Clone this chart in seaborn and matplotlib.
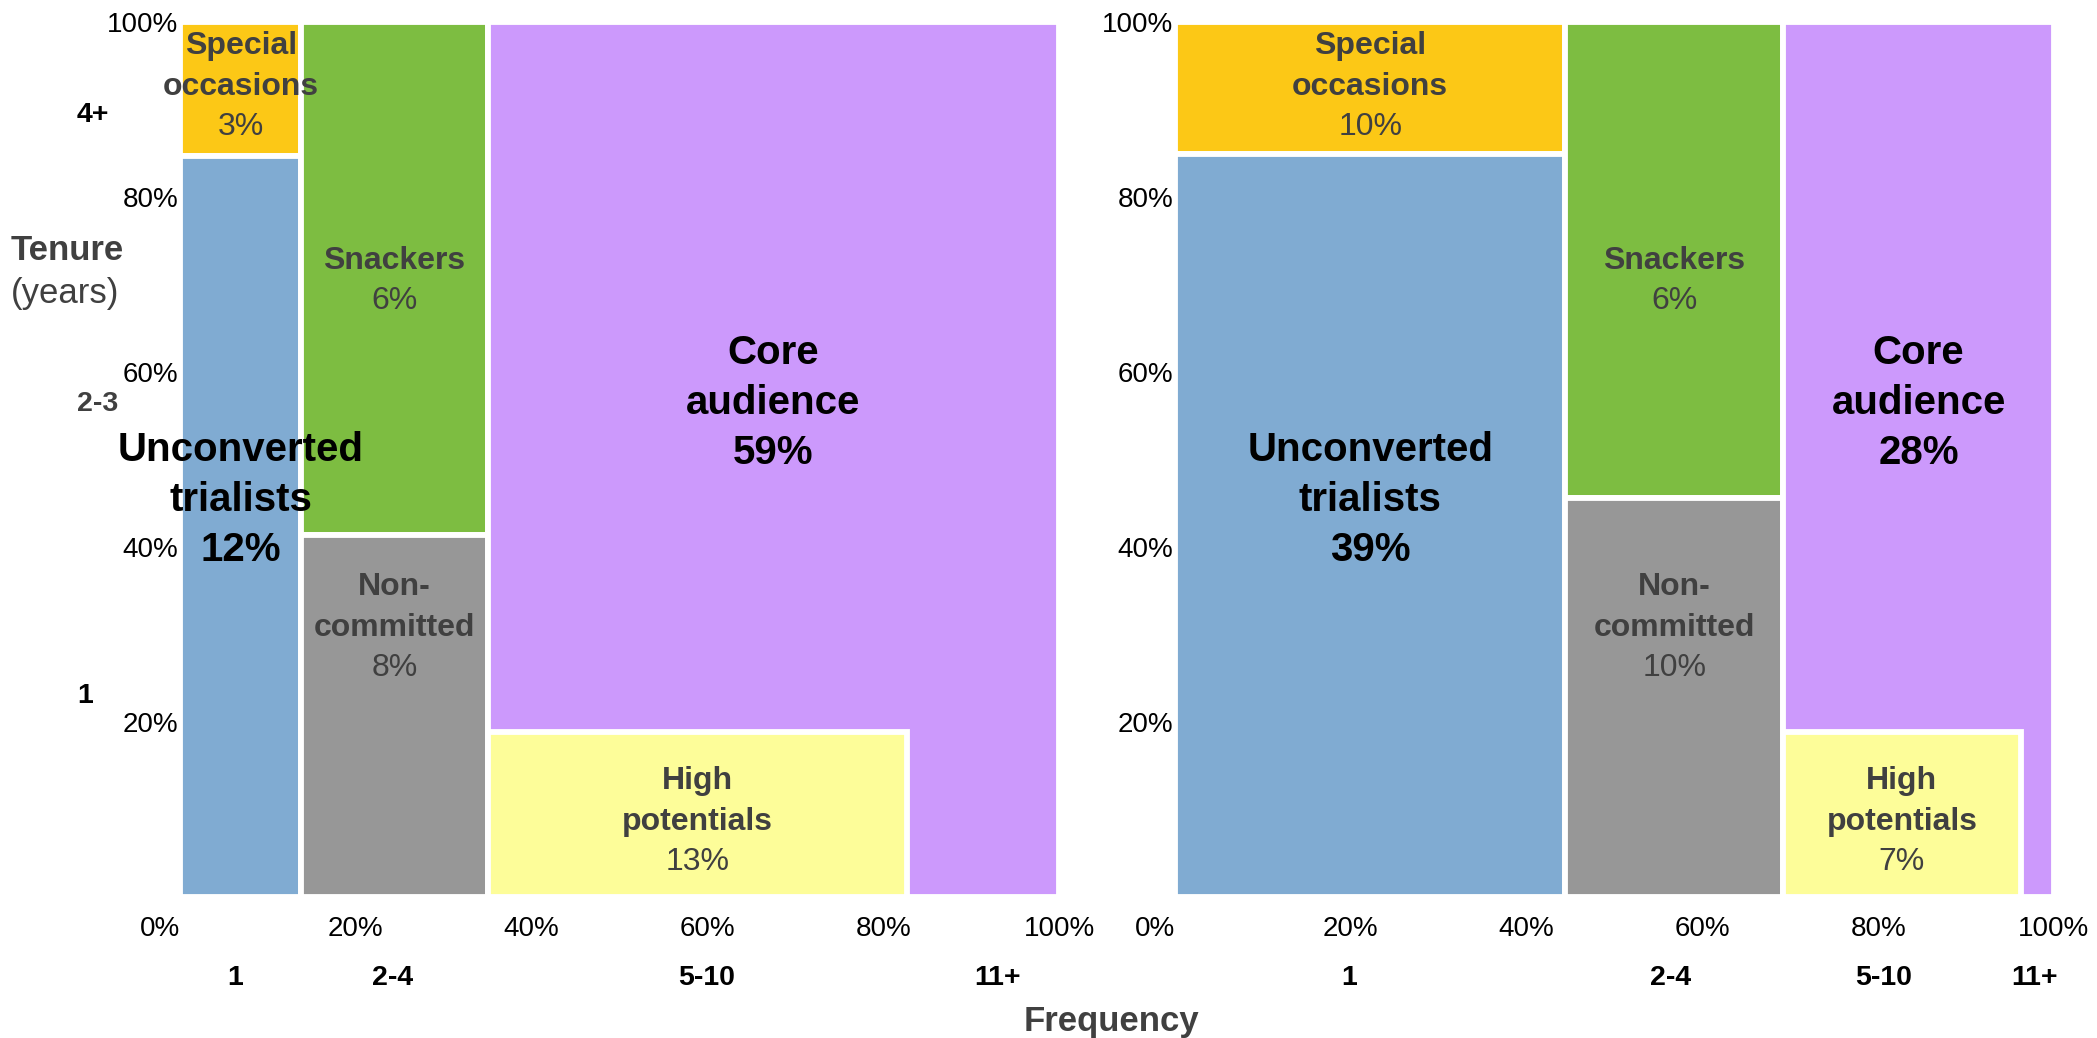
import matplotlib
matplotlib.use("Agg")
import matplotlib.pyplot as plt
import matplotlib.transforms as mtransforms
import seaborn as sns

# ---- segments of the audience map ----
segment_names = ["Special\noccasions", "Unconverted\ntrialists", "Snackers",
                 "Non-\ncommitted", "Core\naudience", "High\npotentials"]
segment_colors = ["#FCC816", "#80ABD2", "#7DBD41", "#979797", "#CC99FC", "#FDFD99"]
headline_segments = [1, 4]

# share of audience in each segment (%)
left_share = [3, 12, 6, 8, 59, 13]
right_share = [10, 39, 6, 10, 28, 7]

# rectangle bounds: x = cumulative frequency (%), y = cumulative tenure (%)
left_x0 = [0, 0, 13.8, 13.8, 35.0, 35.0]
left_x1 = [13.8, 13.8, 35.0, 35.0, 100, 82.7]
left_y0 = [84.7, 0, 41.4, 0, 0, 0]
left_y1 = [100, 84.7, 100, 41.4, 100, 18.9]

right_x0 = [0, 0, 44.4, 44.4, 69.2, 69.2]
right_x1 = [44.4, 44.4, 69.2, 69.2, 100, 96.2]
right_y0 = [84.9, 0, 45.6, 0, 0, 0]
right_y1 = [100, 84.9, 100, 45.6, 100, 18.9]

# axis categories
freq_labels = ["1", "2-4", "5-10", "11+"]
left_freq_pos = [6.3, 24.2, 59.9, 93.0]
right_freq_pos = [19.8, 56.4, 80.6, 97.8]
tenure_labels = ["1", "2-3", "4+"]
tenure_pos = [23.0, 56.3, 89.4]
pct_ticks = [0, 20, 40, 60, 80, 100]

# vertical anchor of each segment label (% of tenure axis)
label_y = [92.6, 45.4, 70.4, 30.8, 56.4, 8.6]

sns.set_theme(style="white", rc={"axes.facecolor": "white", "figure.facecolor": "white"})
plt.rcParams["font.family"] = ["Liberation Sans", "DejaVu Sans"]

W, H, DPI = 2097, 1038, 100
fig = plt.figure(figsize=(W / DPI, H / DPI), dpi=DPI)

ax_bottom = (H - 897) / H
ax_height = 875 / H
ax_left = fig.add_axes([180 / W, ax_bottom, 879 / W, ax_height])
ax_right = fig.add_axes([1175 / W, ax_bottom, 879 / W, ax_height])

TEXT_GREY = "#404040"


def draw_panel(ax, x0, x1, y0, y1, share, freq_pos):
    widths = [b - a for a, b in zip(x0, x1)]
    heights = [b - a for a, b in zip(y0, y1)]
    ax.bar(x0, heights, width=widths, bottom=y0, align="edge",
           color=segment_colors, edgecolor="white", linewidth=4.2)
    ax.set_xlim(0, 100)
    ax.set_ylim(0, 100)
    sns.despine(ax=ax, left=True, bottom=True)
    ax.grid(False)

    ax.set_xticks(pct_ticks)
    ax.set_xticklabels([f"{t}%" for t in pct_ticks])
    ax.set_yticks(pct_ticks[1:])
    ax.set_yticklabels([f"{t}%" for t in pct_ticks[1:]])
    ax.tick_params(axis="both", length=0, labelsize=20, labelcolor="black")
    ax.tick_params(axis="x", pad=14)
    ax.tick_params(axis="y", pad=1)
    first = ax.get_xticklabels()[0]
    first.set_horizontalalignment("right")

    # segment labels
    for i, name in enumerate(segment_names):
        cx = (x0[i] + x1[i]) / 2
        cy = label_y[i]
        name_lines = name.split("\n")
        if i in headline_segments:
            lines = [(t, "bold") for t in name_lines] + [(f"{share[i]}%", "bold")]
            size, pitch, color = 29, 36.0, "black"
        else:
            lines = [(t, "bold") for t in name_lines] + [(f"{share[i]}%", "normal")]
            size, pitch, color = 23, 29.0, TEXT_GREY
        n = len(lines)
        for k, (txt, weight) in enumerate(lines):
            off = ((n - 1) / 2 - k) * pitch
            ax.annotate(txt, xy=(cx, cy), xycoords="data", xytext=(0, off),
                        textcoords="offset points", ha="center", va="center",
                        fontsize=size, fontweight=weight, color=color)

    # frequency categories under the percentage ticks
    trans = mtransforms.blended_transform_factory(ax.transData, fig.transFigure)
    for lab, pos in zip(freq_labels, freq_pos):
        ax.text(pos, (H - 978) / H, lab, transform=trans, ha="center", va="center",
                fontsize=20.5, fontweight="bold", color="black")


draw_panel(ax_left, left_x0, left_x1, left_y0, left_y1, left_share, left_freq_pos)
draw_panel(ax_right, right_x0, right_x1, right_y0, right_y1, right_share, right_freq_pos)

# tenure categories and axis titles
ytrans = mtransforms.blended_transform_factory(fig.transFigure, ax_left.transData)
tenure_colors = ["black", "#404040", "black"]
for lab, pos, col in zip(tenure_labels, tenure_pos, tenure_colors):
    fig.text(77 / W, pos, lab, transform=ytrans, ha="left", va="center",
             fontsize=20.5, fontweight="bold", color=col)

fig.text(11 / W, (H - 250) / H, "Tenure", ha="left", va="center",
         fontsize=25, fontweight="bold", color=TEXT_GREY)
fig.text(11 / W, (H - 293) / H, "(years)", ha="left", va="center",
         fontsize=25, color=TEXT_GREY)
fig.text(1111 / W, (H - 1022) / H, "Frequency", ha="center", va="center",
         fontsize=25, fontweight="bold", color=TEXT_GREY)

fig.savefig("out.png", dpi=DPI, facecolor="white")
